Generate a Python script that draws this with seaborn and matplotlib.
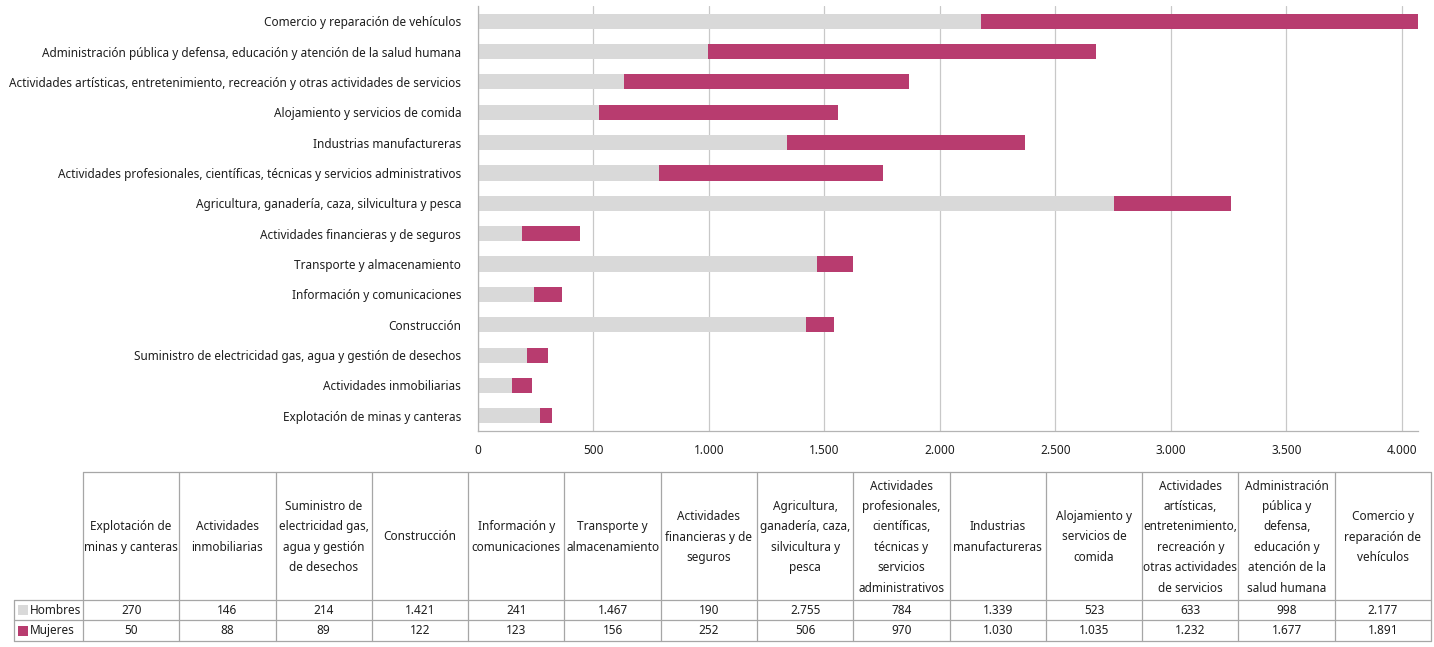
import matplotlib
matplotlib.use("Agg")
import matplotlib.pyplot as plt
import seaborn as sns
import pandas as pd
import numpy as np

sns.set_theme(style="white")
plt.rcParams['font.family'] = ['Noto Sans', 'DejaVu Sans']

# Table order (left to right) == bar order bottom to top
categories = [
    "Explotación de minas y canteras",
    "Actividades inmobiliarias",
    "Suministro de electricidad gas, agua y gestión de desechos",
    "Construcción",
    "Información y comunicaciones",
    "Transporte y almacenamiento",
    "Actividades financieras y de seguros",
    "Agricultura, ganadería, caza, silvicultura y pesca",
    "Actividades profesionales, científicas, técnicas y servicios administrativos",
    "Industrias manufactureras",
    "Alojamiento y servicios de comida",
    "Actividades artísticas, entretenimiento, recreación y otras actividades de servicios",
    "Administración pública y defensa, educación y atención de la salud humana",
    "Comercio y reparación de vehículos",
]
header_labels = [
    "Explotación de\nminas y canteras",
    "Actividades\ninmobiliarias",
    "Suministro de\nelectricidad gas,\nagua y gestión\nde desechos",
    "Construcción",
    "Información y\ncomunicaciones",
    "Transporte y\nalmacenamiento",
    "Actividades\nfinancieras y de\nseguros",
    "Agricultura,\nganadería, caza,\nsilvicultura y\npesca",
    "Actividades\nprofesionales,\ncientíficas,\ntécnicas y\nservicios\nadministrativos",
    "Industrias\nmanufactureras",
    "Alojamiento y\nservicios de\ncomida",
    "Actividades\nartísticas,\nentretenimiento,\nrecreación y\notras actividades\nde servicios",
    "Administración\npública y\ndefensa,\neducación y\natención de la\nsalud humana",
    "Comercio y\nreparación de\nvehículos",
]
hombres = [270, 146, 214, 1421, 241, 1467, 190, 2755, 784, 1339, 523, 633, 998, 2177]
mujeres = [50, 88, 89, 122, 123, 156, 252, 506, 970, 1030, 1035, 1232, 1677, 1891]
series_names = ["Hombres", "Mujeres"]
x_ticks = [0, 500, 1000, 1500, 2000, 2500, 3000, 3500, 4000]

GRAY = "#D9D9D9"
MAG = "#B83C6F"
FS = 8.5
TXT = "#1E1E1E"

df = pd.DataFrame({"cat": categories, "Hombres": hombres, "Mujeres": mujeres})
df["Total"] = df["Hombres"] + df["Mujeres"]
order = categories[::-1]

W, H = 1434, 647
fig = plt.figure(figsize=(W / 100, H / 100), dpi=100)

def px(x0, y0, x1, y1):
    return [x0 / W, 1 - y1 / H, (x1 - x0) / W, (y1 - y0) / H]

ax = fig.add_axes(px(478, 6, 1418, 431))
sns.barplot(data=df, y="cat", x="Total", order=order, color=MAG, width=0.5,
            saturation=1, ax=ax, orient="h")
sns.barplot(data=df, y="cat", x="Hombres", order=order, color=GRAY, width=0.5,
            saturation=1, ax=ax, orient="h")
for p in ax.patches:
    p.set_edgecolor("none")
    p.set_linewidth(0)
ax.set_xlim(0, 4070)
ax.set_ylim(13.5, -0.5)
ax.set_xticks(x_ticks)
ax.set_xticklabels([f"{v:,}".replace(",", ".") for v in x_ticks], fontsize=FS, color=TXT)
ax.tick_params(axis="y", labelsize=FS, labelcolor=TXT, length=0, pad=12)
ax.tick_params(axis="x", length=0, pad=9)
ax.set_xlabel("")
ax.set_ylabel("")
ax.grid(axis="x", color="#C8C8C8", linewidth=0.9)
ax.set_axisbelow(True)
for side in ("top", "right"):
    ax.spines[side].set_visible(False)
for side in ("left", "bottom"):
    ax.spines[side].set_color("#B4B4B4")
    ax.spines[side].set_linewidth(0.9)

# Data table drawn in pixel coordinates
tax = fig.add_axes([0, 0, 1, 1])
tax.set_xlim(0, W)
tax.set_ylim(H, 0)
tax.axis("off")
col_edges = np.linspace(83, 1431, len(categories) + 1)
y_top, y_h, y_m, y_bot = 472, 600, 620, 641
lc = "#A6A6A6"
lw = 0.9
for xe in col_edges:
    tax.plot([xe, xe], [y_top, y_bot], color=lc, lw=lw)
tax.plot([14, 14], [y_h, y_bot], color=lc, lw=lw)
tax.plot([83, 1431], [y_top, y_top], color=lc, lw=lw)
for yy in (y_h, y_m, y_bot):
    tax.plot([14, 1431], [yy, yy], color=lc, lw=lw)
for i, lab in enumerate(header_labels):
    cx = (col_edges[i] + col_edges[i + 1]) / 2
    tax.text(cx, (y_top + y_h) / 2 + 1, lab, ha="center", va="center", fontsize=FS,
             color=TXT, linespacing=1.74)
    tax.text(cx, (y_h + y_m) / 2, f"{hombres[i]:,}".replace(",", "."), ha="center",
             va="center", fontsize=FS, color=TXT)
    tax.text(cx, (y_m + y_bot) / 2, f"{mujeres[i]:,}".replace(",", "."), ha="center",
             va="center", fontsize=FS, color=TXT)
for (y0, y1), name, col in zip([(y_h, y_m), (y_m, y_bot)], series_names, [GRAY, MAG]):
    cy = (y0 + y1) / 2
    tax.add_patch(plt.Rectangle((18, cy - 5), 10, 10, color=col, lw=0))
    tax.text(30, cy, name, ha="left", va="center", fontsize=FS, color=TXT)

fig.savefig("out.png", dpi=100)
